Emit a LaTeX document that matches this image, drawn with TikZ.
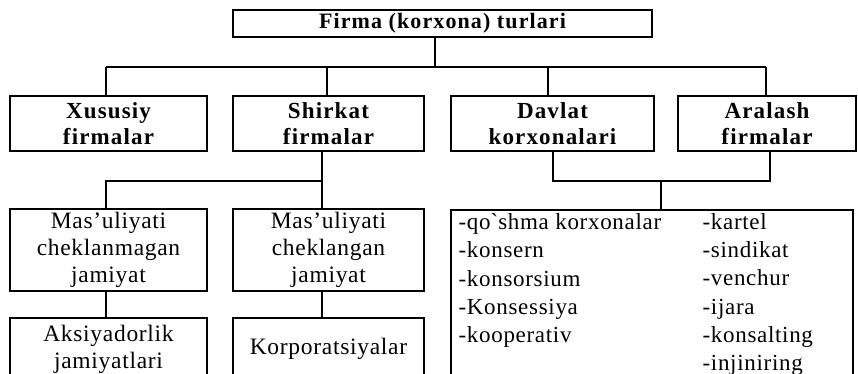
\documentclass[tikz,border=0pt]{standalone}
\usepackage{fontspec}
\setmainfont{Liberation Serif}
\begin{document}
\begin{tikzpicture}[x=1pt,y=-1pt, line width=1.2pt,
  hd/.style={draw, rectangle, inner sep=0pt, align=center,
    font=\fontsize{23}{26}\selectfont\bfseries\addfontfeature{LetterSpace=5}},
  bx/.style={draw, rectangle, inner sep=0pt, align=center,
    font=\fontsize{23.5}{27}\selectfont\addfontfeature{LetterSpace=3}},
  lst/.style={inner sep=0pt, align=left, anchor=north west,
    font=\fontsize{23}{28.2}\selectfont\addfontfeature{LetterSpace=3}},
  conn/.style={line width=1.2pt}]
\useasboundingbox (0,0) rectangle (858,373);
\clip (0,0) rectangle (858,373);

% title
\node[hd, font=\fontsize{22}{26}\selectfont\bfseries\addfontfeature{LetterSpace=5},
  minimum width=419pt, minimum height=27pt] (title) at (442.5,23.5) {Firma (korxona) turlari};

% level 2
\node[hd, minimum width=197pt, minimum height=55pt] (xus) at (108.5,123.5) {Xususiy\\firmalar};
\node[hd, minimum width=191pt, minimum height=55pt] (shi) at (328.5,123.5) {Shirkat\\firmalar};
\node[hd, minimum width=203pt, minimum height=55pt] (dav) at (552.5,123.5) {Davlat\\korxonalari};
\node[hd, minimum width=178pt, minimum height=55pt] (ara) at (767,123.5) {Aralash\\firmalar};

% level 3
\node[bx, minimum width=197pt, minimum height=82pt] (m1) at (108.5,250) {Mas’uliyati\\cheklanmagan\\jamiyat};
\node[bx, minimum width=191pt, minimum height=82pt] (m2) at (328.5,250) {Mas’uliyati\\cheklangan\\jamiyat};

% level 4
\node[bx, minimum width=197pt, minimum height=62pt] (ak) at (108.5,349) {Aksiyadorlik\\jamiyatlari};
\node[bx, minimum width=191pt, minimum height=62pt] (ko) at (328.5,349) {Korporatsiyalar};

% list box
\node[draw, rectangle, minimum width=402pt, minimum height=168pt] (list) at (652,294) {};
\node[lst] (lc) at (458,213) {-qo\textasciigrave shma korxonalar\\-konsern\\-konsorsium\\-Konsessiya\\-kooperativ};
\node[lst] (rc) at (702,213) {-kartel\\-sindikat\\-venchur\\-ijara\\-konsalting\\-injiniring};

% connectors top
\coordinate (tb) at (435,67);
\coordinate (b1) at (106,67);
\coordinate (b2) at (327,67);
\coordinate (b3) at (548,67);
\coordinate (b4) at (766,67);
\draw[conn] (tb |- title.south) -- (tb);
\draw[conn] (b1) -- (b4);
\draw[conn] (b1) -- (b1 |- xus.north);
\draw[conn] (b2) -- (b2 |- shi.north);
\draw[conn] (b3) -- (b3 |- dav.north);
\draw[conn] (b4) -- (b4 |- ara.north);

% shirkat branch
\coordinate (s0) at (106,181);
\coordinate (s1) at (322,181);
\draw[conn] (s1 |- shi.south) -- (s1) -- (s0) -- (s0 |- m1.north);
\draw[conn] (s1) -- (s1 |- m2.north);
\draw[conn] (s0 |- m1.south) -- (s0 |- ak.north);
\draw[conn] (s1 |- m2.south) -- (s1 |- ko.north);

% davlat / aralash branch
\coordinate (d1) at (553,181);
\coordinate (d2) at (770,181);
\coordinate (dm) at (661,181);
\draw[conn] (d1 |- dav.south) -- (d1) -- (d2) -- (d2 |- ara.south);
\draw[conn] (dm) -- (dm |- list.north);
\end{tikzpicture}
\end{document}
